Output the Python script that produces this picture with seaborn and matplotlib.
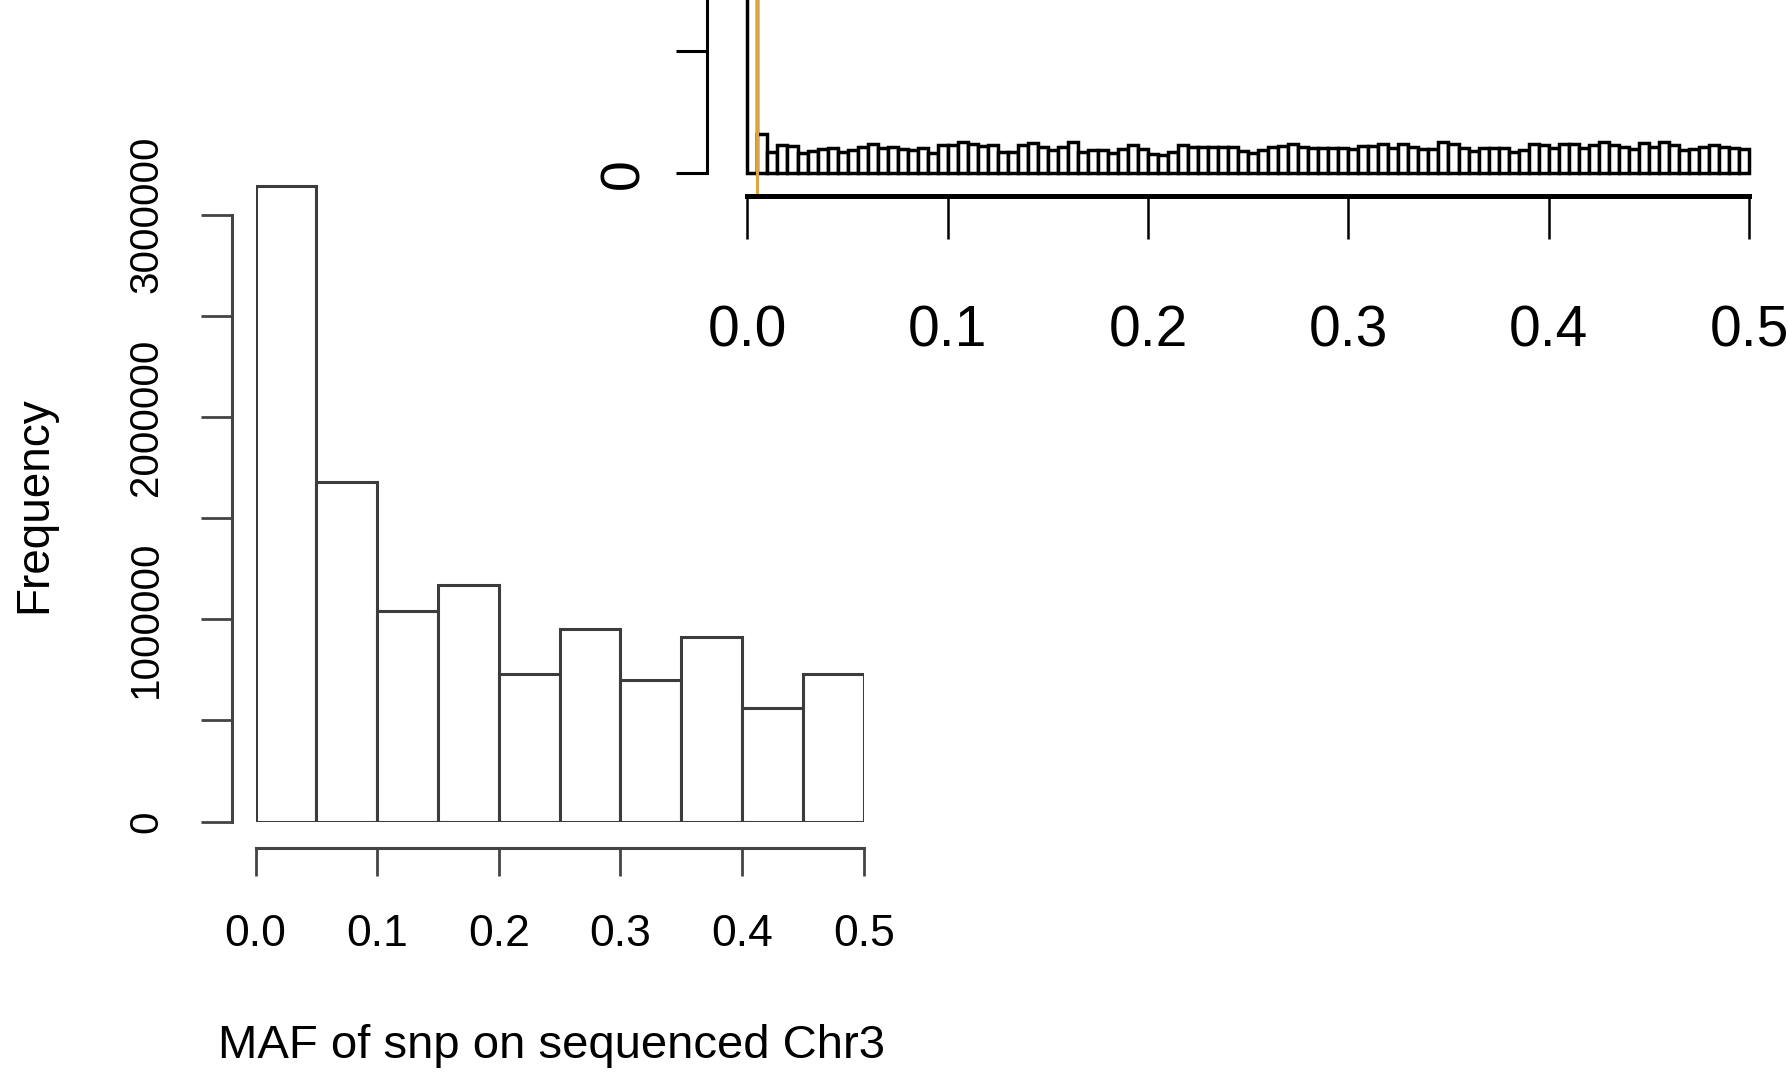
import numpy as np
import pandas as pd
import matplotlib
matplotlib.use('Agg')
import matplotlib.pyplot as plt
import seaborn as sns

# Histograma principal: MAF de los SNP en Chr3 (10 clases de 0.05)
maf_bins = [0.0, 0.05, 0.1, 0.15, 0.2, 0.25, 0.3, 0.35, 0.4, 0.45, 0.5]
maf_counts = [3140000, 1680000, 1040000, 1170000, 730000,
              950000, 700000, 910000, 560000, 730000]
y_ticks = [0, 500000, 1000000, 1500000, 2000000, 2500000, 3000000]
y_labels = ['0', '', '1000000', '', '2000000', '', '3000000']
x_ticks = [0.0, 0.1, 0.2, 0.3, 0.4, 0.5]
x_labels = ['0.0', '0.1', '0.2', '0.3', '0.4', '0.5']

# Histograma recortado (arriba a la derecha): 100 clases de 0.005
fine_bins = list(np.linspace(0, 0.5, 101))
fine_counts = [
    4670000, 319700, 177600, 232200, 224000, 169400, 185800, 196700, 210400, 177600,
    191200, 213100, 237700, 210400, 218600, 196700, 191200, 204900, 169400, 232200,
    232200, 254100, 237700, 224000, 232200, 177600, 177600, 232200, 251300, 218600,
    191200, 218600, 254100, 177600, 191200, 191200, 169400, 196700, 232200, 196700,
    158500, 150300, 177600, 232200, 213100, 213100, 213100, 213100, 213100, 185800,
    169400, 191200, 218600, 224000, 237700, 213100, 204900, 204900, 210400, 210400,
    196700, 226800, 224000, 237700, 210400, 237700, 218600, 199400, 199400, 259500,
    237700, 204900, 185800, 204900, 207600, 204900, 177600, 191200, 240400, 232200,
    204900, 237700, 237700, 210400, 232200, 259500, 232200, 218600, 196700, 251300,
    218600, 259500, 232200, 191200, 196700, 218600, 232200, 218600, 204900, 196700,
]
fine_y_ticks = [0, 1000000, 2000000, 3000000, 4000000]
fine_y_labels = ['0', '', '', '', '']  # el resto queda fuera del recorte
threshold = 0.005

sns.set_style("ticks")
plt.rcParams['font.family'] = ['Liberation Sans', 'DejaVu Sans']
plt.rcParams['text.color'] = 'black'
plt.rcParams['xtick.labelcolor'] = 'black'
plt.rcParams['ytick.labelcolor'] = 'black'

fig = plt.figure(figsize=(17.89, 10.76), dpi=100)

# ---- histograma principal ----
df_main = pd.DataFrame({
    'maf': [(a + b) / 2 for a, b in zip(maf_bins[:-1], maf_bins[1:])],
    'n': maf_counts,
})
ax = fig.add_axes([0.1429, 0.2365, 0.3399, 0.6017])
sns.histplot(data=df_main, x='maf', weights='n', bins=maf_bins, ax=ax,
             color='white', edgecolor='#3c3c3c', linewidth=2.2, alpha=1)
ax.set_xlim(0, 0.5)
ax.set_ylim(0, 3200000)
ax.set_xlabel('')
ax.set_ylabel('')
sns.despine(ax=ax, top=True, right=True)
grey = '#444444'
for side in ['left', 'bottom']:
    ax.spines[side].set_color(grey)
    ax.spines[side].set_linewidth(2.2)
ax.spines['left'].set_position(('outward', 17))
ax.spines['bottom'].set_position(('outward', 19))
ax.spines['left'].set_bounds(0, 3000000)
ax.spines['bottom'].set_bounds(0, 0.5)
ax.set_yticks(y_ticks)
ax.set_yticklabels(y_labels)
ax.set_xticks(x_ticks)
ax.set_xticklabels(x_labels)
ax.tick_params(axis='y', length=22, width=2, color=grey, pad=26,
               labelsize=29, labelrotation=90, direction='out')
ax.tick_params(axis='x', length=20.5, width=2, color=grey, pad=27,
               labelsize=32, direction='out')
for lab in ax.get_yticklabels():
    lab.set_va('center')
fig.text(34 / 1789, 1 - 505 / 1076, 'Frequency', rotation=90,
         ha='center', va='center', fontsize=33)
fig.text(552 / 1789, 1 - 1046 / 1076, 'MAF of snp on sequenced Chr3',
         ha='center', va='center', fontsize=34)

# ---- histograma recortado (arriba a la derecha) ----
df_fine = pd.DataFrame({
    'maf': [(a + b) / 2 for a, b in zip(fine_bins[:-1], fine_bins[1:])],
    'n': fine_counts,
})
ax2 = fig.add_axes([0.3954, 0.8176, 0.6046, 0.5724])
sns.histplot(data=df_fine, x='maf', weights='n', bins=fine_bins, ax=ax2,
             color='white', edgecolor='black', linewidth=2.5, alpha=1)
top = max(fine_counts)
ax2.set_xlim(-0.02, 0.52)
ax2.set_ylim(-0.04 * top, 1.04 * top)
ax2.set_xlabel('')
ax2.set_ylabel('')
sns.despine(ax=ax2, top=True, right=True)
ax2.spines['left'].set_linewidth(2.2)
ax2.spines['left'].set_color('black')
ax2.spines['bottom'].set_linewidth(3.6)
ax2.spines['bottom'].set_color('black')
ax2.spines['left'].set_bounds(0, 4000000)
ax2.spines['bottom'].set_bounds(0, 0.5)
ax2.set_yticks(fine_y_ticks)
ax2.set_yticklabels(fine_y_labels)
ax2.set_xticks(x_ticks)
ax2.set_xticklabels(x_labels)
ax2.tick_params(axis='y', length=22, width=2.2, color='black', pad=19,
                labelsize=40, labelrotation=90, direction='out')
ax2.tick_params(axis='x', length=31, width=1.8, color='black', pad=47,
                labelsize=41, direction='out')
for lab in ax2.get_yticklabels():
    lab.set_va('center')
ax2.axvline(threshold, color='#e8a423', linewidth=2.2)

plt.savefig('out.png', dpi=100)
plt.close()
